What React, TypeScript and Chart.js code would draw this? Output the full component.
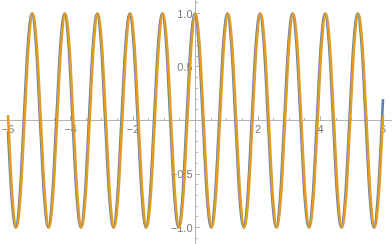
import React, { useEffect, useRef } from "react";
import { Chart, registerables } from "chart.js";

Chart.register(...registerables);

// ---- data ----
// orange curve (drawn on top)
const orangeX = [
  -6, -5.992, -5.861, -5.731, -5.601, -5.471, -5.340, -5.210, -5.080,
  -4.950, -4.819, -4.689, -4.559, -4.429, -4.298, -4.168, -4.038,
  -3.908, -3.777, -3.647, -3.517, -3.387, -3.256, -3.126, -2.996,
  -2.866, -2.735, -2.605, -2.475, -2.345, -2.214, -2.084, -1.954,
  -1.824, -1.693, -1.563, -1.433, -1.303, -1.172, -1.042, -0.912,
  -0.782, -0.651, -0.521, -0.391, -0.261, -0.130, 0, 0.130,
  0.261, 0.391, 0.521, 0.651, 0.782, 0.912, 1.042, 1.172,
  1.303, 1.433, 1.563, 1.693, 1.824, 1.954, 2.084, 2.214,
  2.345, 2.475, 2.605, 2.735, 2.866, 2.996, 3.126, 3.256,
  3.387, 3.517, 3.647, 3.777, 3.908, 4.038, 4.168, 4.298,
  4.429, 4.559, 4.689, 4.819, 4.950, 5.080, 5.210, 5.340,
  5.471, 5.601, 5.731, 5.861, 5.992, 6,
];
const orangeY = [
  0.05,
  0, -0.71, -1, -0.71, 0, 0.71, 1, 0.71,
  0, -0.71, -1, -0.71, 0, 0.71, 1, 0.71,
  0, -0.71, -1, -0.71, 0, 0.71, 1, 0.71,
  0, -0.71, -1, -0.71, 0, 0.71, 1, 0.71,
  0, -0.71, -1, -0.71, 0, 0.71, 1, 0.71,
  0, -0.71, -1, -0.71, 0, 0.71, 1, 0.71,
  0, -0.71, -1, -0.71, 0, 0.71, 1, 0.71,
  0, -0.71, -1, -0.71, 0, 0.71, 1, 0.71,
  0, -0.71, -1, -0.71, 0, 0.71, 1, 0.71,
  0, -0.71, -1, -0.71, 0, 0.71, 1, 0.71,
  0, -0.71, -1, -0.71, 0, 0.71, 1, 0.71,
  0, -0.71, -1, -0.71, 0,
  0.05,
];

// blue curve (slightly ahead of the orange one)
const blueX = [
  -6, -5.886, -5.756, -5.626, -5.496, -5.365, -5.235, -5.105,
  -4.975, -4.844, -4.714, -4.584, -4.454, -4.323, -4.193, -4.063,
  -3.933, -3.802, -3.672, -3.542, -3.412, -3.281, -3.151, -3.021,
  -2.891, -2.760, -2.630, -2.500, -2.370, -2.239, -2.109, -1.979,
  -1.849, -1.718, -1.588, -1.458, -1.328, -1.197, -1.067, -0.937,
  -0.807, -0.676, -0.546, -0.416, -0.286, -0.155, -0.025, 0.105,
  0.236, 0.366, 0.496, 0.626, 0.757, 0.887, 1.017, 1.147,
  1.278, 1.408, 1.538, 1.668, 1.799, 1.929, 2.059, 2.189,
  2.320, 2.450, 2.580, 2.710, 2.841, 2.971, 3.101, 3.231,
  3.362, 3.492, 3.622, 3.752, 3.883, 4.013, 4.143, 4.273,
  4.404, 4.534, 4.664, 4.794, 4.925, 5.055, 5.185, 5.315,
  5.446, 5.576, 5.706, 5.836, 5.967, 6,
];
const blueY = [
  -0.1,
  -0.71, -1, -0.71, 0, 0.71, 1, 0.71,
  0, -0.71, -1, -0.71, 0, 0.71, 1, 0.71,
  0, -0.71, -1, -0.71, 0, 0.71, 1, 0.71,
  0, -0.71, -1, -0.71, 0, 0.71, 1, 0.71,
  0, -0.71, -1, -0.71, 0, 0.71, 1, 0.71,
  0, -0.71, -1, -0.71, 0, 0.71, 1, 0.71,
  0, -0.71, -1, -0.71, 0, 0.71, 1, 0.71,
  0, -0.71, -1, -0.71, 0, 0.71, 1, 0.71,
  0, -0.71, -1, -0.71, 0, 0.71, 1, 0.71,
  0, -0.71, -1, -0.71, 0, 0.71, 1, 0.71,
  0, -0.71, -1, -0.71, 0, 0.71, 1, 0.71,
  0, -0.71, -1, -0.71, 0,
  0.2,
];

// ---- ticks ----
const xMajorTicks = [-6, -4, -2, 2, 4, 6];
const xTickLabels = ["\u22126", "\u22124", "\u22122", "2", "4", "6"];
const xMinorTicks = [
  -5.5, -5, -4.5, -3.5, -3, -2.5, -1.5, -1, -0.5,
  0.5, 1, 1.5, 2.5, 3, 3.5, 4.5, 5, 5.5,
];
const yMajorTicks = [-1, -0.5, 0.5, 1];
const yTickLabels = ["\u22121.0", "\u22120.5", "0.5", "1.0"];
const yMinorTicks = [
  -1.1, -0.9, -0.8, -0.7, -0.6, -0.4, -0.3, -0.2, -0.1,
  0.1, 0.2, 0.3, 0.4, 0.6, 0.7, 0.8, 0.9, 1.1,
];

const AXIS_COLOR = "#b4b4b4";
const LABEL_COLOR = "#7a7a7a";
const BLUE = "#5e81b5";
const ORANGE = "#e19c24";

const axesPlugin = {
  id: "mathAxes",
  beforeDatasetsDraw(chart: any) {
    const { ctx, chartArea } = chart;
    const xs = chart.scales.x;
    const ys = chart.scales.y;
    const x0 = Math.floor(xs.getPixelForValue(0)) + 0.5;
    const y0 = Math.floor(ys.getPixelForValue(0)) + 0.5;
    ctx.save();
    ctx.strokeStyle = AXIS_COLOR;
    ctx.lineWidth = 1;
    ctx.beginPath();
    ctx.moveTo(chartArea.left, y0);
    ctx.lineTo(chartArea.right, y0);
    ctx.moveTo(x0, chartArea.top);
    ctx.lineTo(x0, chartArea.bottom);
    // x ticks (pointing up)
    const xt = (v: number, len: number) => {
      const p = Math.floor(xs.getPixelForValue(v)) + 0.5;
      ctx.moveTo(p, y0);
      ctx.lineTo(p, y0 - len);
    };
    xMajorTicks.forEach((v) => xt(v, 4.5));
    xMinorTicks.forEach((v) => xt(v, 2.5));
    // y ticks (pointing right)
    const yt = (v: number, len: number) => {
      const p = Math.floor(ys.getPixelForValue(v)) + 0.5;
      ctx.moveTo(x0, p);
      ctx.lineTo(x0 + len, p);
    };
    yMajorTicks.forEach((v) => yt(v, 4.5));
    yMinorTicks.forEach((v) => yt(v, 2.5));
    ctx.stroke();

    ctx.fillStyle = LABEL_COLOR;
    ctx.font = '11px "Liberation Sans", Arial, sans-serif';
    ctx.textAlign = "center";
    ctx.textBaseline = "top";
    xMajorTicks.forEach((v, i) => {
      ctx.fillText(xTickLabels[i], xs.getPixelForValue(v), y0 + 4);
    });
    ctx.textAlign = "right";
    ctx.textBaseline = "middle";
    yMajorTicks.forEach((v, i) => {
      ctx.fillText(yTickLabels[i], x0 - 3, ys.getPixelForValue(v) + 1);
    });
    ctx.restore();
  },
};

export default function App() {
  const ref = useRef<HTMLCanvasElement>(null);
  useEffect(() => {
    const orange = orangeX.map((x, i) => ({ x, y: orangeY[i] }));
    const blue = blueX.map((x, i) => ({ x, y: blueY[i] }));
    const chart = new Chart(ref.current as HTMLCanvasElement, {
      type: "line",
      data: {
        datasets: [
          {
            data: orange,
            borderColor: ORANGE,
            borderWidth: 2.6,
            pointRadius: 0,
            cubicInterpolationMode: "monotone",
            fill: false,
            order: 0,
          },
          {
            data: blue,
            borderColor: BLUE,
            borderWidth: 2.6,
            pointRadius: 0,
            cubicInterpolationMode: "monotone",
            fill: false,
            order: 1,
          },
        ],
      },
      options: {
        animation: false,
        responsive: false,
        events: [],
        layout: { padding: 0 },
        plugins: {
          legend: { display: false },
          title: { display: false },
          tooltip: { enabled: false },
        },
        scales: {
          x: { type: "linear", min: -6.256, max: 6.288, display: false },
          y: { type: "linear", min: -1.154, max: 1.126, display: false },
        },
      },
      plugins: [axesPlugin],
    });
    return () => chart.destroy();
  }, []);
  return (
    <div style={{ position: "fixed", left: 0, top: 0, width: 392, height: 244, background: "#fff" }}>
      <canvas ref={ref} width={392} height={244} style={{ display: "block" }} />
    </div>
  );
}
